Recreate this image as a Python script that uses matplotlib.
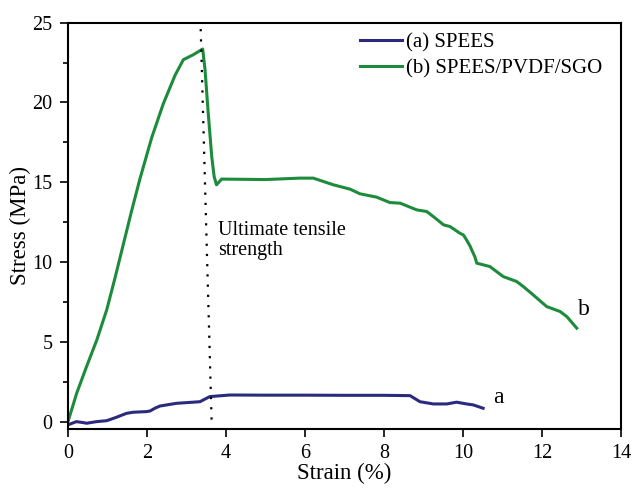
import numpy as np
import matplotlib.pyplot as plt
from matplotlib.ticker import MultipleLocator

plt.rcParams['font.family'] = ['Liberation Serif', 'DejaVu Serif']

# (a) SPEES
strain_a = [0.0, 0.21, 0.39, 0.47, 0.72, 0.98, 1.20, 1.48, 1.65, 1.99, 2.08, 2.20,
            2.33, 2.75, 3.17, 3.34, 3.59, 4.10, 5.0, 6.0, 7.0, 8.0, 8.66, 8.91,
            9.25, 9.59, 9.84, 10.09, 10.26, 10.51]
stress_a = [-0.2, 0.0, -0.06, -0.1, 0.0, 0.06, 0.25, 0.52, 0.59, 0.63, 0.67, 0.84,
            0.98, 1.15, 1.22, 1.25, 1.57, 1.67, 1.66, 1.66, 1.65, 1.65, 1.63, 1.25,
            1.11, 1.11, 1.22, 1.11, 1.05, 0.84]

# (b) SPEES/PVDF/SGO
strain_b = [0.0, 0.22, 0.47, 0.73, 0.98, 1.19, 1.40, 1.61, 1.82, 2.12, 2.41, 2.71,
            2.92, 3.17, 3.41, 3.47, 3.55, 3.64, 3.70, 3.76, 3.89, 5.0, 5.87, 6.21,
            6.72, 7.14, 7.39, 7.81, 8.15, 8.41, 8.83, 9.08, 9.25, 9.51, 9.67, 9.92,
            10.01, 10.09, 10.18, 10.22, 10.30, 10.35, 10.68, 11.02, 11.36, 11.53,
            11.78, 12.12, 12.46, 12.63, 12.88]
stress_b = [0.0, 1.78, 3.45, 5.12, 7.0, 9.0, 11.1, 13.2, 15.2, 17.8, 19.9,
            21.7, 22.68, 22.99, 23.35, 22.05, 19.34, 16.6, 15.36, 14.84, 15.2,
            15.17, 15.26, 15.26, 14.84, 14.57, 14.28, 14.07, 13.73, 13.69, 13.27,
            13.17, 12.85, 12.33, 12.23, 11.81, 11.7, 11.39, 11.0, 10.77, 10.34,
            9.93, 9.72, 9.09, 8.78, 8.46, 7.94, 7.21, 6.90, 6.58, 5.86]

# dotted marker of ultimate tensile strength
uts_x = [3.36, 3.64]
uts_y = [24.6, -0.3]

fig = plt.figure(figsize=(6.33, 4.9), dpi=100)
ax = fig.add_axes([0.1074, 0.1245, 0.8736, 0.8292])

ax.plot(strain_a, stress_a, color='#2b2a7e', lw=2.2, label='(a) SPEES')
ax.plot(strain_b, stress_b, color='#1c8b3c', lw=2.2, label='(b) SPEES/PVDF/SGO')
ax.plot(uts_x, uts_y, color='black', ls=(0, (1, 3.6)), lw=1.6)

ax.text(3.80, 11.71, 'Ultimate tensile', fontsize=14.5, va='baseline')
ax.text(3.80, 10.45, 'strength', fontsize=14.5, va='baseline')
ax.text(10.89, 1.17, 'a', fontsize=17, ha='center', va='baseline')
ax.text(13.06, 6.69, 'b', fontsize=17, ha='center', va='baseline')

ax.set_xlim(0, 14)
ax.set_ylim(-0.46, 25)
ax.xaxis.set_major_locator(MultipleLocator(2))
ax.yaxis.set_major_locator(MultipleLocator(5))
ax.yaxis.set_minor_locator(MultipleLocator(2.5))
ax.tick_params(which='both', direction='out', labelsize=14.5, width=1.2, pad=5)
ax.tick_params(which='major', length=6)
ax.tick_params(which='minor', length=3.5)
for s in ax.spines.values():
    s.set_linewidth(1.5)

ax.set_xlabel('Strain (%)', fontsize=16.5, labelpad=0)
ax.set_ylabel('Stress (MPa)', fontsize=16.5, labelpad=1)
ax.legend(loc='upper right', frameon=False, fontsize=15, handlelength=2.0,
          handletextpad=0.2, labelspacing=0.3, borderaxespad=0.1,
          bbox_to_anchor=(0.985, 1.0))

fig.savefig('out.png', dpi=100)
